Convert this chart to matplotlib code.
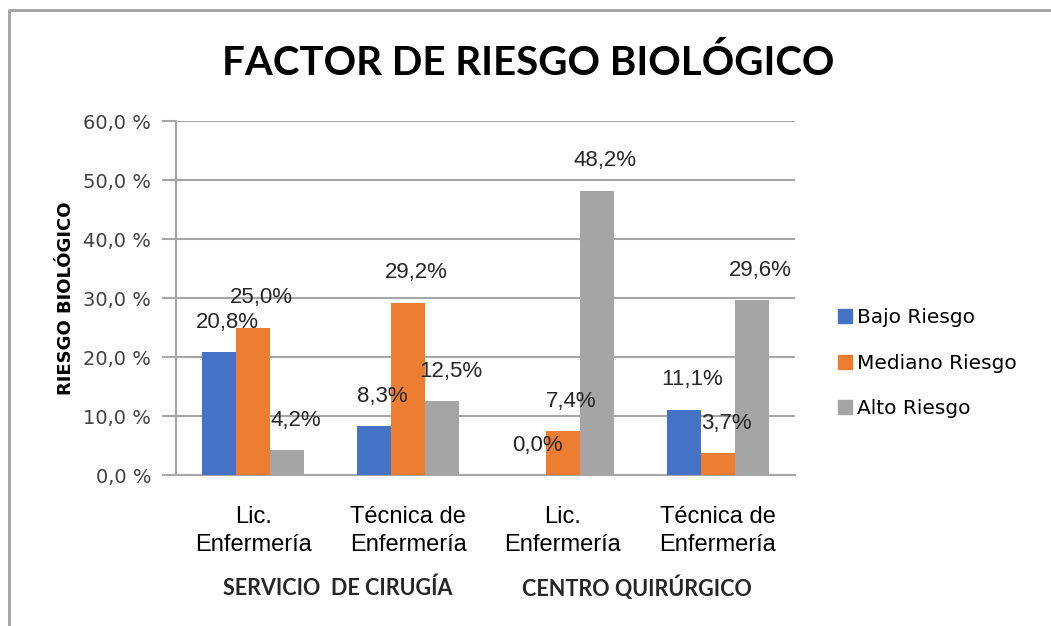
import numpy as np
import matplotlib.pyplot as plt
from matplotlib.lines import Line2D

categories = ["Lic.\nEnfermería", "Técnica de\nEnfermería", "Lic.\nEnfermería", "Técnica de\nEnfermería"]
groups = ["SERVICIO  DE CIRUGÍA", "CENTRO QUIRÚRGICO"]
series = ["Bajo Riesgo", "Mediano Riesgo", "Alto Riesgo"]
bajo = [20.8, 8.3, 0.0, 11.1]
mediano = [25.0, 29.2, 7.4, 3.7]
alto = [4.2, 12.5, 48.2, 29.6]
yticks = [0, 10, 20, 30, 40, 50, 60]

colors = ["#4472C4", "#ED7D31", "#A5A5A5"]
grid_color = "#A6A6A6"

fig = plt.figure(figsize=(10.51, 6.26), dpi=100)
ax = fig.add_axes([0.1675, 0.2412, 0.5889, 0.5655])

x = np.arange(len(categories))
w = 0.22
for i, (vals, col) in enumerate(zip([bajo, mediano, alto], colors)):
    pos = x + (i - 1) * w
    ax.bar(pos, vals, width=w, color=col, zorder=3)
    for p, v in zip(pos, vals):
        ax.annotate(f"{v:.1f}%".replace(".", ","), (p, v), xytext=(6, 14),
                    textcoords="offset points", ha="center", va="bottom",
                    fontsize=16, color="#262626", family="Liberation Sans",
                    zorder=5)

ax.set_xlim(-0.5, 3.5)
ax.set_ylim(0, 60)
ax.set_yticks(yticks)
ax.set_yticklabels([f"{t:.1f} %".replace(".", ",") for t in yticks],
                   fontsize=14, color="#404040")
ax.set_xticks(x)
ax.set_xticklabels(categories, fontsize=17, family="Liberation Sans",
                   linespacing=1.4)
ax.tick_params(axis="x", length=0, pad=22)
ax.tick_params(axis="y", length=10, width=1.5, color=grid_color, pad=8)
ax.grid(axis="y", color=grid_color, linewidth=1.5, zorder=0)
for s in ["top", "right"]:
    ax.spines[s].set_visible(False)
for s in ["left", "bottom"]:
    ax.spines[s].set_color(grid_color)
    ax.spines[s].set_linewidth(1.5)

ax.set_ylabel("RIESGO BIOLÓGICO", fontsize=13, fontweight="bold", labelpad=6)

fig.text(0.503, 0.90, "FACTOR DE RIESGO BIOLÓGICO", ha="center", va="center",
         fontsize=29, family="Lato", fontweight="bold")
fig.text(338 / 1051, 1 - 588 / 626, groups[0], ha="center", va="center",
         fontsize=15.5, family="Lato", fontweight="bold", color="#262626")
fig.text(637 / 1051, 1 - 588 / 626, groups[1], ha="center", va="center",
         fontsize=15.5, family="Lato", fontweight="bold", color="#262626")

handles = [Line2D([], [], marker="s", linestyle="", markersize=10,
                  markerfacecolor=c, markeredgecolor=c) for c in colors]
fig.legend(handles, series, loc="center left", bbox_to_anchor=(0.777, 0.42),
           frameon=False, fontsize=14.5, labelspacing=1.3, handletextpad=0.1,
           handlelength=1.0)

# outer chart frame
fig.add_artist(Line2D([9 / 1051, 9 / 1051, 1.0], [0.0, 1 - 10 / 626, 1 - 10 / 626],
                      transform=fig.transFigure, color="#A0A0A0", linewidth=2))

fig.savefig("out.png", dpi=100)
